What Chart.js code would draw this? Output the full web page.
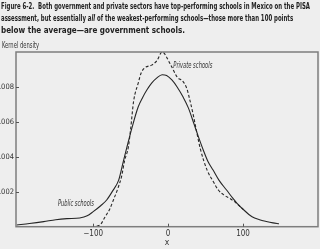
<!DOCTYPE html>
<html><head><meta charset="utf-8">
<script src="https://cdn.jsdelivr.net/npm/chart.js@4.4.1/dist/chart.umd.min.js"></script>
<style>html,body{margin:0;padding:0;background:#eeeeee;overflow:hidden}canvas{display:block}</style>
</head><body>
<canvas id="c" width="320" height="249" style="width:320px;height:249px"></canvas>
<script>
// ---- data ----
const publicX = [-202,-185,-166,-150,-135,-118,-108,-100,-90,-82,-74,-66,-60,-55,-48,-40,-34,-28,-22,-15,-8,-2,5,12,20,27,34,40,47,53,60,68,78,86,92,100,112,122,131,140,148];
const publicY = [0.00010,0.00018,0.00029,0.00040,0.00046,0.00050,0.00062,0.00086,0.00120,0.00153,0.00205,0.00267,0.00370,0.00455,0.00570,0.00685,0.00740,0.00785,0.00822,0.00852,0.00870,0.00866,0.00840,0.00800,0.00742,0.00680,0.00595,0.00520,0.00438,0.00375,0.00324,0.00265,0.00210,0.00165,0.00134,0.00100,0.00057,0.00040,0.00030,0.00022,0.00017];
const privateX = [-102,-91,-84,-78,-73,-67,-62,-58,-53,-50,-46,-40,-36,-31,-22,-15,-8,3,12,20,25,29,34,38,43,52,60,67,75,83,88,95,100];
const privateY = [0.00000,0.00010,0.00057,0.00100,0.00153,0.00220,0.00290,0.00380,0.00457,0.00560,0.00720,0.00820,0.00880,0.00910,0.00925,0.00950,0.01000,0.00930,0.00857,0.00830,0.00790,0.00725,0.00630,0.00545,0.00445,0.00324,0.00260,0.00210,0.00180,0.00160,0.00145,0.00120,0.00100];
const xTicks = [-100, 0, 100];
const yTicks = [0.002, 0.004, 0.006, 0.008];
const titleLines = [
  [{t:'Figure 6-2.  Both government and private sectors have top-performing schools in Mexico on the PISA'}],
  [{t:'assessment, but essentially '},{t:'all',italic:true},{t:' of the weakest-performing schools\u2014those more than 100 points'}],
  [{t:'below the average\u2014are government schools.'}]
];
const yAxisTitle = 'Kernel density';
const xAxisTitle = 'x';
const seriesNames = ['Public schools', 'Private schools'];

const FONT = '"Liberation Sans Narrow","DejaVu Sans Condensed","Liberation Sans",sans-serif';
const INK = '#262626';

function measure(ctx, segs, size, weight) {
  let total = 0;
  segs.forEach(s => { ctx.font = (s.italic ? 'italic ' : '') + weight + ' ' + size + 'px ' + FONT; s.w = ctx.measureText(s.t).width; total += s.w; });
  return total;
}
function drawScaled(ctx, segs, x, y, sx, size, weight) {
  measure(ctx, segs, size, weight);
  ctx.save(); ctx.translate(x, y); ctx.scale(sx, 1);
  let cx = 0;
  segs.forEach(s => { ctx.font = (s.italic ? 'italic ' : '') + weight + ' ' + size + 'px ' + FONT; ctx.fillText(s.t, cx, 0); cx += s.w; });
  ctx.restore();
}
function fitText(ctx, segs, x, y, width, size, weight) {
  const total = measure(ctx, segs, size, weight);
  drawScaled(ctx, segs, x, y, width / total, size, weight);
}

const deco = {
  id: 'deco',
  beforeDraw(chart) {
    const ctx = chart.ctx;
    ctx.save(); ctx.fillStyle = '#eeeeee'; ctx.fillRect(0, 0, chart.width, chart.height); ctx.restore();
  },
  afterDraw(chart) {
    const ctx = chart.ctx, a = chart.chartArea, xs = chart.scales.x, ys = chart.scales.y;
    ctx.save();
    // frame
    ctx.strokeStyle = '#7d7d7d'; ctx.lineWidth = 1.5;
    ctx.strokeRect(a.left, a.top, a.right - a.left, a.bottom - a.top);
    // inward ticks
    ctx.strokeStyle = '#555'; ctx.lineWidth = 1;
    xTicks.forEach(v => { const px = Math.round(xs.getPixelForValue(v)) + 0.5; ctx.beginPath(); ctx.moveTo(px, a.bottom); ctx.lineTo(px, a.bottom - 3); ctx.stroke(); });
    yTicks.forEach(v => { const py = Math.round(ys.getPixelForValue(v)) + 0.5; ctx.beginPath(); ctx.moveTo(a.left, py); ctx.lineTo(a.left + 3, py); ctx.stroke(); });
    // title
    ctx.fillStyle = '#222'; ctx.textBaseline = 'alphabetic';
    const sx = 309 / measure(ctx, titleLines[0], 9.5, 'bold');
    const bases = [8.5, 20.5, 32.5];
    drawScaled(ctx, titleLines[0], 1, bases[0], sx, 9.5, 'bold');
    drawScaled(ctx, titleLines[1], 1, bases[1], sx, 9.5, 'bold');
    fitText(ctx, titleLines[2], 1, bases[2], 184, 9.5, 'bold');
    // y axis title
    ctx.fillStyle = '#333';
    fitText(ctx, [{t: yAxisTitle}], 2, 47.5, 37, 8, 'normal');
    // series labels
    fitText(ctx, [{t: seriesNames[1], italic: true}], xs.getPixelForValue(7), ys.getPixelForValue(0.00924) + 3, 39, 8.5, 'normal');
    fitText(ctx, [{t: seriesNames[0], italic: true}], xs.getPixelForValue(-147), ys.getPixelForValue(0.00135) + 3, 36, 8.5, 'normal');
    ctx.restore();
  }
};

new Chart(document.getElementById('c'), {
  type: 'line',
  data: {
    datasets: [
      { label: seriesNames[0], data: publicX.map((x, i) => ({x, y: publicY[i]})), borderColor: INK, borderWidth: 1.1, pointRadius: 0, cubicInterpolationMode: 'monotone', fill: false },
      { label: seriesNames[1], data: privateX.map((x, i) => ({x, y: privateY[i]})), borderColor: INK, borderWidth: 1.1, borderDash: [3, 2], pointRadius: 0, cubicInterpolationMode: 'monotone', fill: false }
    ]
  },
  options: {
    responsive: false, animation: false, devicePixelRatio: 1,
    layout: { padding: { top: 52, right: 2, left: 0, bottom: 0 } },
    plugins: { legend: { display: false }, tooltip: { enabled: false }, title: { display: false } },
    scales: {
      x: {
        type: 'linear', min: -203, max: 200,
        grid: { display: false, drawTicks: false }, border: { display: false },
        afterBuildTicks: s => { s.ticks = xTicks.map(v => ({value: v})); },
        afterFit: s => { s.height = 22.3; },
        ticks: { padding: 2, color: '#333', font: { family: FONT, size: 8 }, maxRotation: 0, callback: v => (v < 0 ? '\u2212' + Math.abs(v) : String(v)) },
        title: { display: true, text: xAxisTitle, color: '#333', font: { family: FONT, size: 8.5 }, padding: { top: 0, bottom: 1 } }
      },
      y: {
        min: 0, max: 0.01,
        grid: { display: false, drawTicks: false }, border: { display: false },
        afterBuildTicks: s => { s.ticks = yTicks.map(v => ({value: v})); },
        afterFit: s => { s.width = 16; },
        ticks: { padding: 2, color: '#333', font: { family: FONT, size: 7.5 }, callback: v => '.' + String(Math.round(v * 1000)).padStart(3, '0') }
      }
    }
  },
  plugins: [deco]
});
</script>
</body></html>
